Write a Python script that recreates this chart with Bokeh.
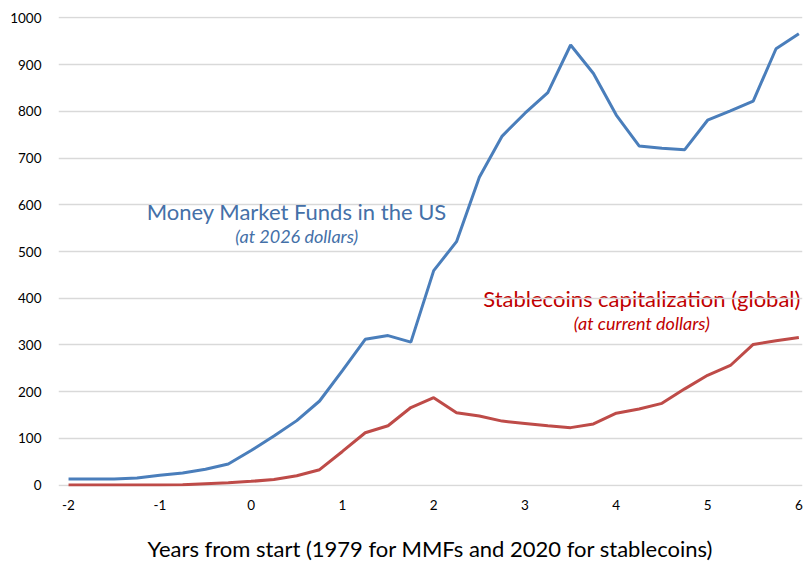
from bokeh.plotting import figure
from bokeh.models import Label, Range1d, FixedTicker
from bokeh.embed import file_html
from bokeh.resources import INLINE

years = [-2 + 0.25 * i for i in range(33)]
mmf = [13, 13, 13, 15, 21, 26, 34, 45, 74, 105, 138, 180, 245, 312, 320, 306,
       459, 521, 659, 747, 796, 840, 942, 881, 792, 726, 721, 718, 781, 801, 822, 934, 966]
stable = [0, 0, 0, 0, 0, 1, 3, 5, 8, 12, 20, 33, 72, 112, 127, 166,
          187, 155, 148, 137, 132, 127, 123, 131, 154, 163, 175, 206, 235, 256, 301, 309, 316]
x_ticks = [-2, -1, 0, 1, 2, 3, 4, 5, 6]
y_ticks = [0, 100, 200, 300, 400, 500, 600, 700, 800, 900, 1000]

FONT = "Lato"

p = figure(width=803, height=566, output_backend="svg", toolbar_location=None,
           x_range=Range1d(-2.11, 6.04), y_range=Range1d(-3, 1003),
           min_border_left=58, min_border_right=1, min_border_top=16, min_border_bottom=80)
p.outline_line_color = None
p.background_fill_color = "white"
p.border_fill_color = "white"

p.line(years, mmf, line_color="#4A7EBB", line_width=3)
p.line(years, stable, line_color="#BE4B48", line_width=3)

p.xaxis.ticker = FixedTicker(ticks=x_ticks)
p.yaxis.ticker = FixedTicker(ticks=y_ticks)
p.xaxis.major_label_overrides = {t: str(t) for t in x_ticks}
p.xgrid.grid_line_color = None
p.ygrid.grid_line_color = "#D9D9D9"
p.ygrid.grid_line_width = 1.3

for ax in (p.xaxis, p.yaxis):
    ax.axis_line_color = None
    ax.major_tick_line_color = None
    ax.minor_tick_line_color = None
    ax.major_label_text_font = FONT
    ax.major_label_text_font_size = "13.5px"
    ax.major_label_text_color = "#000000"

p.yaxis.major_label_standoff = 11
p.xaxis.major_label_standoff = 7
p.xaxis.axis_label = "Years from start (1979 for MMFs and 2020 for stablecoins)"
p.xaxis.axis_label_text_font = FONT
p.xaxis.axis_label_text_font_style = "normal"
p.xaxis.axis_label_text_font_size = "22px"
p.xaxis.axis_label_text_color = "#000000"
p.xaxis.axis_label_standoff = 22

labels = [
    (0.50, 585, "Money Market Funds in the US", "22px", "normal", "#4470A8", "glyph"),
    (0.50, 533, "(at 2026 dollars)", "18px", "italic", "#4470A8", "glyph"),
    (4.28, 400, "Stablecoins capitalization (global)", "22px", "normal", "#C00000", "image"),
    (4.28, 347, "(at current dollars)", "18px", "italic", "#C00000", "glyph"),
]
for lx, ly, txt, size, style, color, lvl in labels:
    p.add_layout(Label(x=lx, y=ly, text=txt, text_align="center", text_baseline="middle",
                       text_font=FONT, text_font_size=size, text_font_style=style,
                       text_color=color, level=lvl))

open("out.html", "w").write(file_html(p, INLINE))
